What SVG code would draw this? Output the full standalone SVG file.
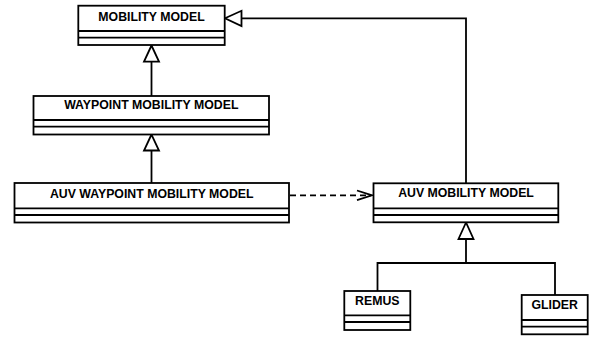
<svg xmlns="http://www.w3.org/2000/svg" width="590" height="339" viewBox="0 0 590 339">
<style>
.box{fill:#fff;stroke:#000;stroke-width:1.8}
.sep{stroke:#000;stroke-width:1.8}
.lbl{font-family:"Liberation Sans",Arial,sans-serif;font-weight:bold;font-size:12.3px;text-anchor:middle;fill:#000}
.ln{fill:none;stroke:#000;stroke-width:1.8}
.tri{fill:#fff;stroke:#000;stroke-width:1.8}
.dash{fill:none;stroke:#000;stroke-width:1.8;stroke-dasharray:6,4}
</style>
<rect width="590" height="339" fill="#fff"/>
<g id="connectors">
<line class="ln" x1="151.5" y1="96" x2="151.5" y2="61.7"/>
<polygon class="tri" points="151.5,45.5 144,61.7 159,61.7"/>
<line class="ln" x1="151.5" y1="183" x2="151.5" y2="150.5"/>
<polygon class="tri" points="151.5,134.5 144,150.5 159,150.5"/>
<polyline class="ln" points="466,183.3 466,18.3 241.5,18.3"/>
<polygon class="tri" points="225,18.3 241.5,10.8 241.5,26"/>
<line class="dash" x1="290" y1="195.3" x2="371" y2="195.3"/>
<polyline class="ln" points="357,190.5 372,195.3 357,200.2"/>
<polygon class="tri" points="466,222.5 458.5,239 473.5,239"/>
<line class="ln" x1="466" y1="239" x2="466" y2="263"/>
<polyline class="ln" points="377.5,291 377.5,263 555,263 555,295"/>
</g>
<g id="mobility-model">
<rect class="box" x="78.3" y="5.7" width="146.4" height="39.3"/>
<line class="sep" x1="78.3" y1="31" x2="224.7" y2="31"/>
<line class="sep" x1="78.3" y1="37.7" x2="224.7" y2="37.7"/>
<text class="lbl" x="151.5" y="20.7">MOBILITY MODEL</text>
</g>
<g id="waypoint-mobility-model">
<rect class="box" x="33.5" y="96" width="235.5" height="38.5"/>
<line class="sep" x1="33.5" y1="120" x2="269" y2="120"/>
<line class="sep" x1="33.5" y1="126.7" x2="269" y2="126.7"/>
<text class="lbl" x="151.3" y="109.3">WAYPOINT MOBILITY MODEL</text>
</g>
<g id="auv-waypoint-mobility-model">
<rect class="box" x="14.5" y="183" width="274.5" height="39.5"/>
<line class="sep" x1="14.5" y1="208.3" x2="289" y2="208.3"/>
<line class="sep" x1="14.5" y1="215" x2="289" y2="215"/>
<text class="lbl" x="151.7" y="197.5">AUV WAYPOINT MOBILITY MODEL</text>
</g>
<g id="auv-mobility-model">
<rect class="box" x="373.5" y="183.3" width="184.8" height="39"/>
<line class="sep" x1="373.5" y1="208.3" x2="558.3" y2="208.3"/>
<line class="sep" x1="373.5" y1="215" x2="558.3" y2="215"/>
<text class="lbl" x="466" y="197.2">AUV MOBILITY MODEL</text>
</g>
<g id="remus">
<rect class="box" x="344.3" y="291" width="66" height="39"/>
<line class="sep" x1="344.3" y1="315.3" x2="410.3" y2="315.3"/>
<line class="sep" x1="344.3" y1="322" x2="410.3" y2="322"/>
<text class="lbl" x="377.3" y="305">REMUS</text>
</g>
<g id="glider">
<rect class="box" x="521.7" y="295" width="66" height="39.3"/>
<line class="sep" x1="521.7" y1="320" x2="587.7" y2="320"/>
<line class="sep" x1="521.7" y1="326.7" x2="587.7" y2="326.7"/>
<text class="lbl" x="554.7" y="309">GLIDER</text>
</g>
</svg>
